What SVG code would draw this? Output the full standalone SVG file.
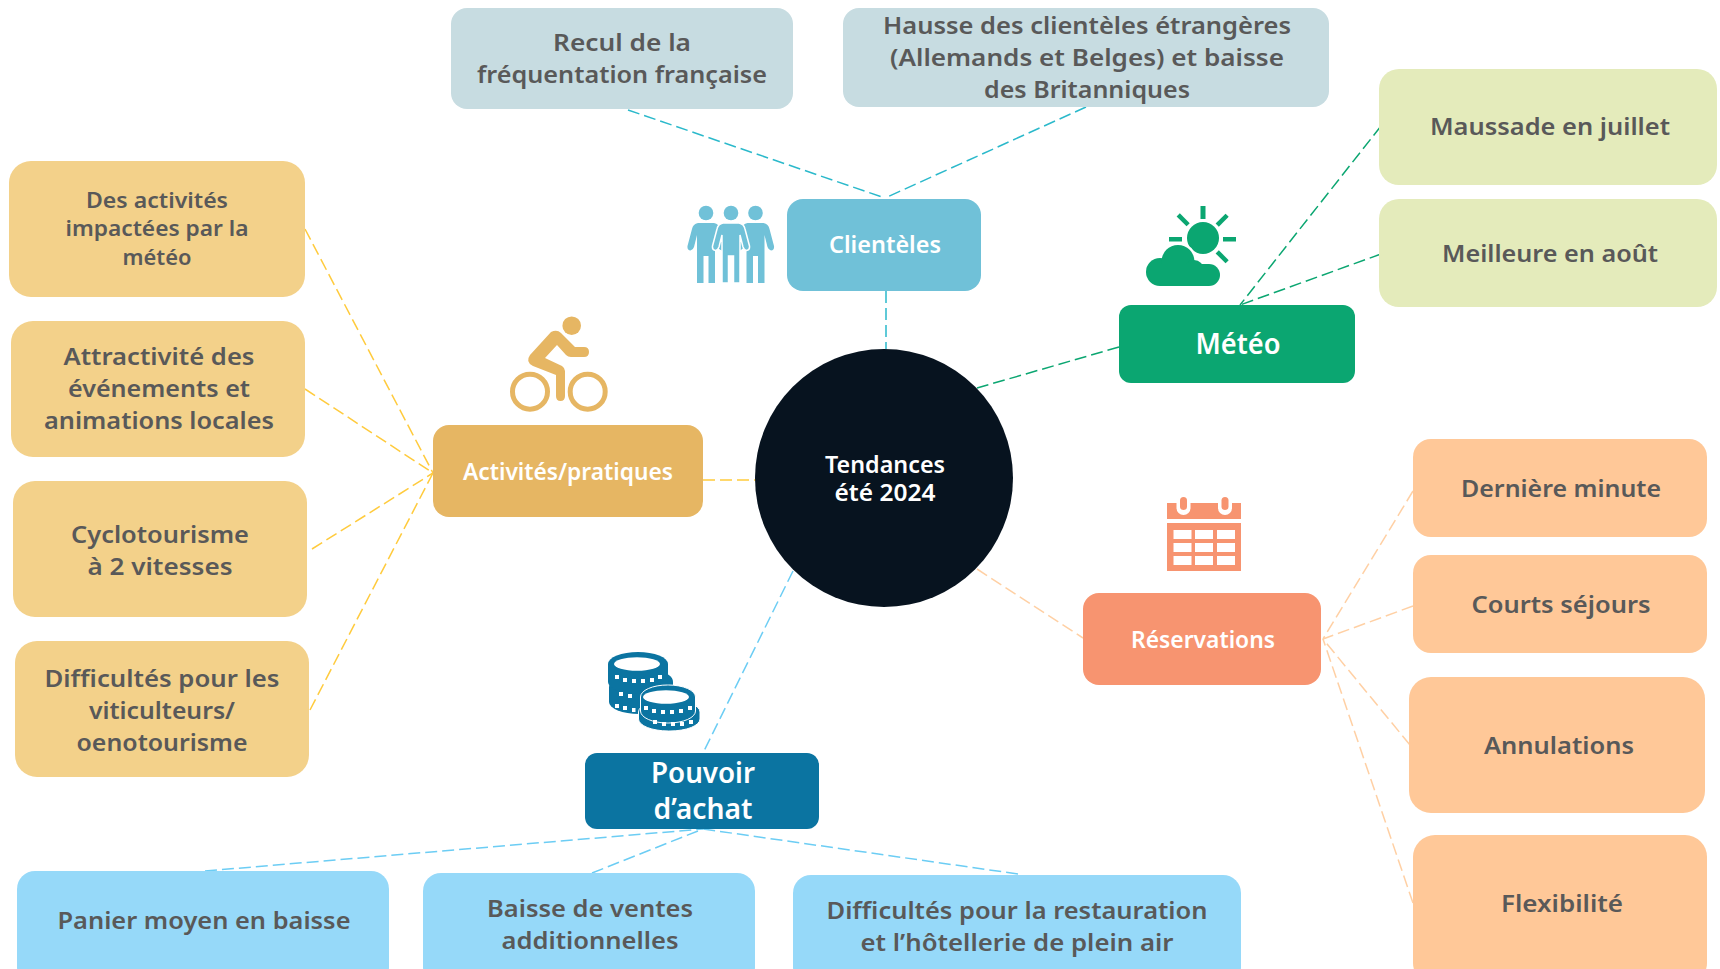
<svg xmlns="http://www.w3.org/2000/svg" width="1720" height="969" viewBox="0 0 1720 969">
<style>
text{font-family:"Noto Sans","Open Sans",sans-serif;text-anchor:middle}
.l{font-size:23.5px;font-weight:650;fill:#595959}
.s{font-size:21.5px}
.h{font-size:23px;font-weight:600;fill:#fff}
.b{font-size:28px}
.c line{fill:none;stroke-width:1.5;stroke-dasharray:12 5}
.t line{stroke:#2BB9CB}.g line{stroke:#0BA671}.y line{stroke:#FFCB3D}.o line{stroke:#FFD0A4}.u line{stroke:#6CCDF4}
.w{fill:#fff}
</style>
<defs>
<path id="person" d="M-8 223H8Q13 224 14 229L18.500 246Q19 250 15.500 250.500Q13 250 12 247L9 235V283H2.500V256H-2.500V283H-9V235L-12 247Q-13 250-15.500 250.500Q-19 250-18.500 246L-14 229Q-13 224-8 223Z"/>
<g id="cloud"><circle cx="1160" cy="272" r="14"/><circle cx="1178" cy="261.500" r="16.500"/><circle cx="1194" cy="270" r="10"/><circle cx="1209" cy="275" r="11"/><rect x="1160" y="264" width="49" height="22"/></g>
</defs>
<rect width="1720" height="969" fill="#fff"/>
<g id="connectors" class="c">
<g class="t"><line x1="628" y1="110" x2="885" y2="198"/><line x1="1086" y1="107" x2="885" y2="198"/><line x1="886" y1="291" x2="886" y2="349"/></g>
<g class="g"><line x1="1119" y1="347" x2="977" y2="388"/><line x1="1381" y1="126" x2="1240" y2="305"/><line x1="1381" y1="254" x2="1240" y2="305"/></g>
<g class="o"><line x1="977" y1="569" x2="1083" y2="638"/><line x1="1413" y1="491" x2="1323" y2="639"/><line x1="1413" y1="606" x2="1323" y2="639"/><line x1="1410" y1="745" x2="1323" y2="639"/><line x1="1413" y1="903" x2="1323" y2="639"/></g>
<g class="u"><line x1="793" y1="571" x2="703" y2="753"/><line x1="205" y1="871" x2="703" y2="829"/><line x1="592" y1="873" x2="703" y2="829"/><line x1="1018" y1="874" x2="703" y2="829"/></g>
<g class="y"><line x1="703" y1="480" x2="758" y2="480"/><line x1="305" y1="229" x2="433" y2="473"/><line x1="305" y1="389" x2="433" y2="473"/><line x1="312" y1="549" x2="433" y2="473"/><line x1="310" y1="710" x2="433" y2="473"/></g>
</g>
<g id="center"><circle cx="884" cy="478" r="129" fill="#07131F"/><text class="h" x="885" y="473" textLength="120" lengthAdjust="spacingAndGlyphs">Tendances</text><text class="h" x="885" y="501" textLength="101" lengthAdjust="spacingAndGlyphs">été 2024</text></g>

<g id="clienteles"><rect x="787" y="199" width="194" height="92" rx="16" fill="#70C1D8"/><text class="h" x="885" y="253" textLength="112" lengthAdjust="spacingAndGlyphs">Clientèles</text></g>
<g id="icon-people" fill="#70C1D8">
<circle cx="706" cy="213" r="7.300"/><use href="#person" x="706"/>
<circle cx="755.500" cy="213" r="7.300"/><use href="#person" x="755.500"/>
<circle cx="731" cy="213" r="7.300"/><use href="#person" x="731" stroke="#fff" stroke-width="1.500"/>
</g>

<g id="recul"><rect x="451" y="8" width="342" height="101" rx="16" fill="#C7DCE1"/><text class="l" x="622" y="51" textLength="138" lengthAdjust="spacingAndGlyphs">Recul de la</text><text class="l" x="622" y="83" textLength="290" lengthAdjust="spacingAndGlyphs">fréquentation française</text></g>
<g id="hausse"><rect x="843" y="8" width="486" height="99" rx="16" fill="#C7DCE1"/><text class="l" x="1087" y="34" textLength="408" lengthAdjust="spacingAndGlyphs">Hausse des clientèles étrangères</text><text class="l" x="1087" y="66" textLength="394" lengthAdjust="spacingAndGlyphs">(Allemands et Belges) et baisse</text><text class="l" x="1087" y="98" textLength="206" lengthAdjust="spacingAndGlyphs">des Britanniques</text></g>

<g id="meteo"><rect x="1119" y="305" width="236" height="78" rx="12" fill="#0BA671"/><text class="h b" x="1238" y="354" textLength="85" lengthAdjust="spacingAndGlyphs">Météo</text></g>
<g id="icon-weather" fill="#0BA671">
<circle cx="1203" cy="238" r="16"/>
<rect x="1200.500" y="206" width="5" height="13"/><rect x="1169" y="237" width="13" height="4.500"/><rect x="1223" y="237" width="13" height="4.500"/>
<rect x="1181" y="213" width="4.500" height="14" transform="rotate(-45 1183 220)"/><rect x="1220" y="213" width="4.500" height="14" transform="rotate(45 1222 220)"/><rect x="1220" y="250" width="4.500" height="14" transform="rotate(-45 1222 257)"/>
<use href="#cloud" fill="#fff" stroke="#fff" stroke-width="5"/>
<use href="#cloud"/>
</g>
<g id="maussade"><rect x="1379" y="69" width="338" height="116" rx="20" fill="#E4EBBB"/><text class="l" x="1550" y="135" textLength="240" lengthAdjust="spacingAndGlyphs">Maussade en juillet</text></g>
<g id="meilleure"><rect x="1379" y="199" width="338" height="108" rx="20" fill="#E4EBBB"/><text class="l" x="1550" y="262" textLength="216" lengthAdjust="spacingAndGlyphs">Meilleure en août</text></g>

<g id="reservations"><rect x="1083" y="593" width="238" height="92" rx="16" fill="#F79470"/><text class="h" x="1203" y="648" textLength="144" lengthAdjust="spacingAndGlyphs">Réservations</text></g>
<g id="icon-calendar">
<path fill="#F79470" fill-rule="evenodd" d="M1167 503h74v16h-74zM1167 523h74v48h-74zM1173.500 530v9h18v-9zM1195 530v9h18v-9zM1217 530v9h18v-9zM1173.500 543v9h18v-9zM1195 543v9h18v-9zM1217 543v9h18v-9zM1173.500 556v9h18v-9zM1195 556v9h18v-9zM1217 556v9h18v-9z"/>
<rect x="1176.500" y="495" width="14" height="20" rx="7" class="w"/><rect x="1218" y="495" width="14" height="20" rx="7" class="w"/>
<rect x="1180" y="497" width="7" height="13" rx="3.500" fill="#F79470"/><rect x="1221.500" y="497" width="7" height="13" rx="3.500" fill="#F79470"/>
</g>
<g id="derniere"><rect x="1413" y="439" width="294" height="98" rx="18" fill="#FFC898"/><text class="l" x="1561" y="497" textLength="200" lengthAdjust="spacingAndGlyphs">Dernière minute</text></g>
<g id="courts"><rect x="1413" y="555" width="294" height="98" rx="18" fill="#FFC898"/><text class="l" x="1561" y="613" textLength="179" lengthAdjust="spacingAndGlyphs">Courts séjours</text></g>
<g id="annulations"><rect x="1409" y="677" width="296" height="136" rx="22" fill="#FFC898"/><text class="l" x="1559" y="754" textLength="150" lengthAdjust="spacingAndGlyphs">Annulations</text></g>
<g id="flexibilite"><rect x="1413" y="835" width="294" height="150" rx="22" fill="#FFC898"/><text class="l" x="1562" y="912" textLength="122" lengthAdjust="spacingAndGlyphs">Flexibilité</text></g>

<g id="pouvoir"><rect x="585" y="753" width="234" height="76" rx="12" fill="#0B74A1"/><text class="h b" x="703" y="783" textLength="104" lengthAdjust="spacingAndGlyphs">Pouvoir</text><text class="h b" x="703" y="819" textLength="99" lengthAdjust="spacingAndGlyphs">d’achat</text></g>
<g id="icon-coins" fill="#0B74A1">
<rect x="609" y="675" width="60" height="39" rx="30" ry="12"/>
<rect x="640" y="672" width="33" height="30" rx="14" ry="10"/>
<rect x="608" y="652" width="60" height="42" rx="30" ry="12"/>
<rect x="638.500" y="700" width="61.500" height="31" rx="30" ry="12" stroke="#fff" stroke-width="1"/>
<rect x="640.500" y="685" width="55" height="38" rx="27" ry="12" stroke="#fff" stroke-width="1"/>
<ellipse cx="637" cy="664" rx="23" ry="6.800" class="w"/>
<ellipse cx="666" cy="697" rx="23" ry="6.800" class="w"/>
<g class="w"><rect x="615" y="675" width="4" height="4"/><rect x="623" y="678" width="4" height="4"/><rect x="632" y="679" width="4" height="4"/><rect x="641" y="679" width="4" height="4"/><rect x="650" y="678" width="4" height="4"/><rect x="658" y="675" width="4" height="4"/>
<rect x="619" y="692" width="4" height="4"/><rect x="628" y="694" width="4" height="4"/>
<rect x="615" y="704" width="4" height="4"/><rect x="623" y="706" width="4" height="4"/><rect x="632" y="708" width="3.500" height="4"/>
<rect x="644" y="706" width="4" height="4"/><rect x="652" y="709" width="4" height="4"/><rect x="661" y="710" width="4" height="4"/><rect x="670" y="710" width="4" height="4"/><rect x="679" y="709" width="4" height="4"/><rect x="688" y="706" width="4" height="4"/>
<rect x="653" y="720" width="4" height="4"/><rect x="662" y="722" width="4" height="4"/><rect x="671" y="722" width="4" height="4"/><rect x="680" y="722" width="4" height="4"/><rect x="689" y="720" width="4" height="4"/></g>
</g>
<g id="panier"><rect x="17" y="871" width="372" height="114" rx="18" fill="#96D9F9"/><text class="l" x="204" y="929" textLength="293" lengthAdjust="spacingAndGlyphs">Panier moyen en baisse</text></g>
<g id="ventes"><rect x="423" y="873" width="332" height="112" rx="18" fill="#96D9F9"/><text class="l" x="590" y="917" textLength="206" lengthAdjust="spacingAndGlyphs">Baisse de ventes</text><text class="l" x="590" y="949" textLength="177" lengthAdjust="spacingAndGlyphs">additionnelles</text></g>
<g id="restauration"><rect x="793" y="875" width="448" height="110" rx="18" fill="#96D9F9"/><text class="l" x="1017" y="919" textLength="381" lengthAdjust="spacingAndGlyphs">Difficultés pour la restauration</text><text class="l" x="1017" y="951" textLength="313" lengthAdjust="spacingAndGlyphs">et l’hôtellerie de plein air</text></g>

<g id="activites"><rect x="433" y="425" width="270" height="92" rx="16" fill="#E6B663"/><text class="h" x="568" y="480" textLength="210" lengthAdjust="spacingAndGlyphs">Activités/pratiques</text></g>
<g id="icon-bike">
<circle cx="571.700" cy="325.700" r="9.300" fill="#E6B663"/>
<g fill="none" stroke="#E6B663" stroke-width="5"><circle cx="530" cy="391.700" r="17.500"/><circle cx="587.700" cy="391.700" r="17.500"/></g>
<path fill="#E6B663" d="M551 332q6-3 10 1l14 14h9q5 0 5 5t-5 5h-13q-3 0-5-2l-9-10-12 13 17 8q3 2 3 5v25q0 5-4.500 5t-4.500-5v-21l-23-9q-8-4-3-11z"/>
</g>
<g id="des-activites"><rect x="9" y="161" width="296" height="136" rx="22" fill="#F3D18A"/><text class="l s" x="157" y="208" textLength="142" lengthAdjust="spacingAndGlyphs">Des activités</text><text class="l s" x="157" y="236" textLength="183" lengthAdjust="spacingAndGlyphs">impactées par la</text><text class="l s" x="157" y="265" textLength="69" lengthAdjust="spacingAndGlyphs">météo</text></g>
<g id="attractivite"><rect x="11" y="321" width="294" height="136" rx="22" fill="#F3D18A"/><text class="l" x="159" y="365" textLength="191" lengthAdjust="spacingAndGlyphs">Attractivité des</text><text class="l" x="159" y="397" textLength="182" lengthAdjust="spacingAndGlyphs">événements et</text><text class="l" x="159" y="429" textLength="230" lengthAdjust="spacingAndGlyphs">animations locales</text></g>
<g id="cyclo"><rect x="13" y="481" width="294" height="136" rx="22" fill="#F3D18A"/><text class="l" x="160" y="543" textLength="178" lengthAdjust="spacingAndGlyphs">Cyclotourisme</text><text class="l" x="160" y="575" textLength="145" lengthAdjust="spacingAndGlyphs">à 2 vitesses</text></g>
<g id="viticulteurs"><rect x="15" y="641" width="294" height="136" rx="22" fill="#F3D18A"/><text class="l" x="162" y="687" textLength="235" lengthAdjust="spacingAndGlyphs">Difficultés pour les</text><text class="l" x="162" y="719" textLength="146" lengthAdjust="spacingAndGlyphs">viticulteurs/</text><text class="l" x="162" y="751" textLength="171" lengthAdjust="spacingAndGlyphs">oenotourisme</text></g>
</svg>
